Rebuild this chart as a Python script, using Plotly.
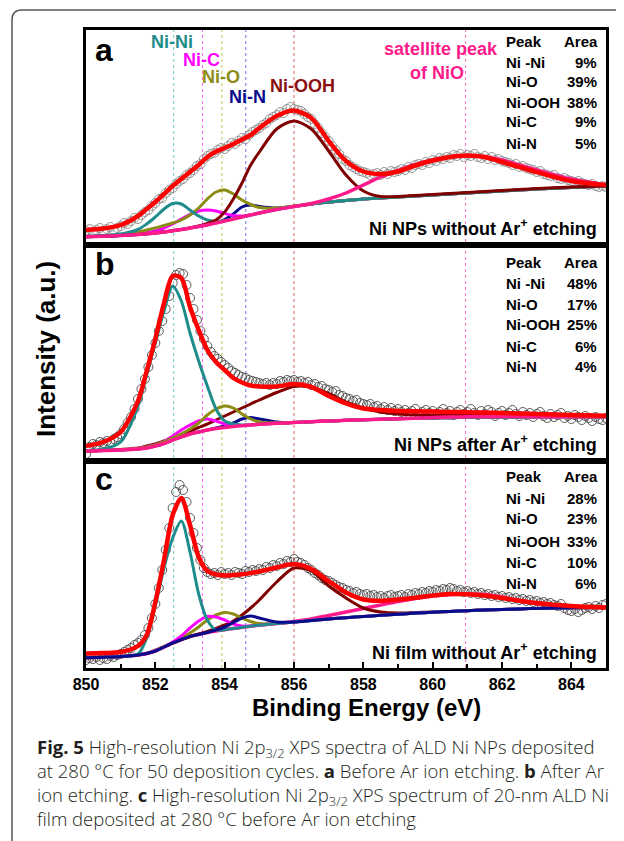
import plotly.graph_objects as go
from plotly.subplots import make_subplots

# ---------------- data (intensity in arbitrary units per panel) ----------------
X_FIT = [850, 850.5, 851, 851.5, 851.75, 852, 852.25, 852.5, 852.75, 853, 853.25, 853.5,
         853.75, 854, 854.25, 854.5, 854.75, 855, 855.5, 856, 856.5, 857, 857.5, 858,
         858.5, 859, 859.5, 860, 860.5, 861, 861.5, 862, 862.5, 863, 864, 865]
X_RAW = [round(850 + 0.1 * i, 1) for i in range(151)]
TICK_VALS = [850, 852, 854, 856, 858, 860, 862, 864]
MINOR_TICKS = [851, 853, 855, 857, 859, 861, 863, 865]
PEAK_POS = [852.53, 853.36, 853.92, 854.61, 856.0, 860.95]
PEAK_NAMES = ["Ni-Ni", "Ni-C", "Ni-O", "Ni-N", "Ni-OOH", "satellite"]

# panel a
RAW_A = [14, 16, 13, 15, 17, 14, 16, 18, 15, 17,
         19, 22, 21, 24, 27, 26, 30, 33, 35, 39,
         42, 46, 47, 52, 55, 57, 61, 64, 66, 70,
         72, 75, 79, 81, 86, 89, 91, 92, 95, 97,
         96, 99, 102, 101, 104, 107, 106, 110, 113, 115,
         117, 120, 122, 126, 128, 130, 133, 132, 136, 138,
         136, 135, 134, 131, 128, 126, 121, 117, 112, 108,
         104, 99, 95, 91, 86, 84, 80, 78, 76, 74,
         73, 72, 70, 71, 72, 70, 73, 71, 74, 73,
         74, 76, 75, 78, 77, 80, 81, 80, 83, 82,
         85, 84, 87, 86, 88, 87, 90, 89, 91, 88,
         90, 89, 91, 88, 87, 89, 86, 88, 85, 86,
         84, 83, 82, 80, 81, 78, 79, 77, 76, 75,
         73, 74, 71, 70, 69, 70, 67, 66, 67, 65,
         64, 63, 64, 62, 61, 60, 61, 59, 58, 59,
         58]
FIT_A = [15, 16.5, 20, 29, 36, 43, 51, 59, 66, 73, 80, 88, 93.5, 97, 101, 105.5, 110, 117,
         129, 134.5, 127, 104, 84, 73.5, 71, 73.5, 79.5, 84.5, 88, 89.5, 88, 83, 78, 73, 64, 60]
NINI_A = [8.8, 9.5, 11, 15.5, 21, 28, 36, 41.5, 41, 35, 29, 25, 23.5, 24.5, 26.2, 28.1, 30, 32,
          35.5, 38.5, 41, 43, 44.5, 46, 47, 48, 49, 50, 51, 52, 53, 54, 55, 56, 57.5, 59]
NIC_A = [8.3, 8.8, 9.6, 11, 12.5, 14, 17, 21, 26, 30.5, 34, 35, 34, 31.5, 29.5, 29, 30.3, 32,
         35.5, 38.5, 41, 43, 44.5, 46, 47, 48, 49, 50, 51, 52, 53, 54, 55, 56, 57.5, 59]
NIO_A = [8.5, 9.2, 10.5, 13, 15, 17, 19.5, 22, 25, 30, 37, 46, 53, 55, 51, 45, 40.5, 37.5,
         37, 39, 41, 43, 44.5, 46, 47, 48, 49, 50, 51, 52, 53, 54, 55, 56, 57.5, 59]
NIN_A = [8.3, 8.8, 9.5, 10.5, 11.2, 12, 13, 14.3, 15.5, 17, 18.5, 20.2, 22.5, 25.5, 31, 38, 40, 38.5,
         37, 38.7, 41, 43, 44.5, 46, 47, 48, 49, 50, 51, 52, 53, 54, 55, 56, 57.5, 59]
NIOOH_A = [8.3, 8.8, 9.5, 10.5, 11.2, 12, 13, 14.3, 15.5, 17, 19, 21.5, 25, 33, 46, 62, 80, 93,
           116, 124, 116, 94, 70, 54, 48.5, 48.5, 49.5, 50.5, 51.5, 52.5, 53.5, 54.5, 55.5, 56.5, 58, 59]
SAT_A = [8.3, 8.8, 9.5, 10.5, 11.2, 12, 13, 14.3, 15.5, 17, 18.5, 20, 22, 24, 26, 28, 30, 32,
         35.5, 38.5, 41.5, 46, 52, 60, 68, 74.5, 80.5, 85, 88, 89, 88, 85, 80, 75, 66, 60]

# panel b
RAW_B = [7, 14, 17, 16, 19, 18, 20, 19, 22, 24,
         27, 32, 38, 44, 52, 62, 72, 82, 94, 106,
         118, 130, 140, 152, 165, 178, 186, 188, 187, 176,
         163, 152, 141, 130, 122, 115, 109, 105, 102, 99,
         96, 93, 90, 88, 86, 84, 83, 81, 80, 79,
         78, 77, 78, 76, 78, 77, 80, 79, 81, 80,
         81, 79, 80, 78, 79, 76, 77, 74, 75, 72,
         71, 69, 70, 66, 65, 63, 62, 60, 61, 58,
         57, 56, 57, 54, 55, 52, 54, 51, 53, 50,
         52, 49, 51, 48, 50, 52, 47, 49, 51, 48,
         50, 47, 49, 52, 48, 50, 46, 49, 51, 47,
         49, 52, 48, 46, 50, 47, 51, 49, 45, 48,
         50, 46, 48, 51, 47, 45, 49, 46, 48, 44,
         47, 49, 45, 43, 47, 44, 46, 48, 43, 45,
         42, 46, 44, 41, 45, 43, 40, 44, 42, 41,
         43]
FIT_B = [15, 19, 29, 60, 90, 122, 158, 185, 183, 154, 131, 111, 99, 91, 83, 78.5, 75.5, 74.5,
         74.5, 77, 74, 65, 57.5, 52.5, 51, 50, 49.7, 49.4, 49.1, 48.8, 48.4, 48, 47.5, 47, 46, 45.2]
NINI_B = [10.5, 12, 19, 55, 86, 118, 150, 175, 160, 128, 100, 75, 52, 40, 37, 36, 36.2, 36.8,
          37.7, 38.5, 39.3, 40, 40.7, 41.3, 41.8, 42.2, 42.6, 43, 43.3, 43.5, 43.7, 43.9, 44, 44.1, 44.2, 44.3]
NIC_B = [10, 10.5, 11, 12.5, 14, 16, 19.5, 25, 31, 36, 40, 42, 40, 37, 35.5, 35.5, 36, 36.7,
         37.7, 38.5, 39.3, 40, 40.7, 41.3, 41.8, 42.2, 42.6, 43, 43.3, 43.5, 43.7, 43.9, 44, 44.1, 44.2, 44.3]
NIO_B = [10, 10.5, 11, 12.5, 14, 16, 19, 23, 27, 32, 38, 46, 52, 55, 53, 47, 42, 39,
         38, 38.5, 39.3, 40, 40.7, 41.3, 41.8, 42.2, 42.6, 43, 43.3, 43.5, 43.7, 43.9, 44, 44.1, 44.2, 44.3]
NIN_B = [10, 10.5, 11, 12, 13, 15, 17.5, 21, 24, 27, 29, 31, 33, 35, 38, 42, 43.5, 42,
         39, 38.5, 39.3, 40, 40.7, 41.3, 41.8, 42.2, 42.6, 43, 43.3, 43.5, 43.7, 43.9, 44, 44.1, 44.2, 44.3]
NIOOH_B = [10, 10.5, 11.5, 13, 15, 17, 20, 23, 26.5, 30, 33.5, 37, 41, 45, 49, 53, 57, 61,
           68.5, 74.5, 74, 67.5, 59, 53, 49, 47, 46, 45.5, 45.5, 46, 46.5, 46.5, 46, 45.5, 45, 44.5]
SAT_B = [10, 10.5, 11, 12, 13, 15, 17.5, 21, 24, 27, 29, 31, 32.5, 33.5, 34.5, 35.3, 36, 36.7,
         37.7, 38.5, 39.3, 40, 40.7, 41.3, 41.8, 42.3, 42.8, 43.4, 43.9, 44.2, 44.3, 44.4, 44.4, 44.3, 44.3, 44.3]

# panel c
RAW_C = [8, 10, 9, 11, 8, 10, 9, 12, 11, 13,
         14, 16, 18, 20, 23, 25, 28, 33, 40, 50,
         64, 80, 98, 118, 140, 160, 176, 183, 178, 166,
         150, 135, 120, 108, 100, 96, 94, 95, 93, 96,
         94, 95, 93, 96, 95, 94, 97, 96, 98, 97,
         99, 98, 101, 100, 103, 102, 105, 104, 107, 106,
         109, 106, 105, 103, 100, 98, 95, 93, 90, 88,
         87, 85, 83, 81, 80, 78, 77, 75, 76, 74,
         73, 74, 72, 73, 71, 72, 70, 72, 73, 71,
         72, 73, 71, 74, 73, 75, 74, 76, 75, 77,
         76, 78, 77, 79, 78, 80, 79, 77, 78, 76,
         77, 75, 76, 74, 75, 73, 74, 72, 73, 71,
         72, 70, 71, 69, 70, 68, 69, 67, 68, 66,
         67, 65, 66, 64, 65, 63, 62, 64, 60, 58,
         57, 59, 56, 58, 60, 61, 59, 62, 60, 63,
         64]
FIT_C = [14.5, 15, 16, 22, 33, 66, 108, 153, 170, 143, 111, 97, 93.5, 92.5, 93, 93.7, 95, 96.5,
         100.5, 104, 99, 87, 75.5, 68.5, 67.2, 68.5, 70.3, 72.5, 74, 73.8, 72.4, 70, 67.3, 65, 62, 60.6]
NINI_C = [10.3, 10.8, 11.5, 14, 30, 62, 100, 130, 147, 116, 74, 48, 38, 38.3, 39.5, 40.7, 41.8, 42.8,
          44.5, 46, 47.5, 49, 50.3, 51.5, 52.7, 53.8, 54.9, 55.8, 56.6, 57.3, 58, 58.6, 59.1, 59.6, 60.2, 60.6]
NIC_C = [10.3, 10.8, 11.5, 13.2, 14.5, 17.5, 21, 26, 32, 40, 47, 51.5, 51, 48, 44, 42, 42, 42.8,
         44.5, 46, 47.5, 49, 50.3, 51.5, 52.7, 53.8, 54.9, 55.8, 56.6, 57.3, 58, 58.6, 59.1, 59.6, 60.2, 60.6]
NIO_C = [10.3, 10.8, 11.5, 13.2, 14.5, 18, 21.5, 25.5, 30, 35, 41, 48, 53, 55.5, 54, 50, 46.5, 44.5,
         44.5, 46, 47.5, 49, 50.3, 51.5, 52.7, 53.8, 54.9, 55.8, 56.6, 57.3, 58, 58.6, 59.1, 59.6, 60.2, 60.6]
NIN_C = [10.3, 10.8, 11.5, 13, 14.5, 17, 21, 25, 28.5, 31.5, 33.5, 35.5, 38, 41, 45.5, 50, 52, 50,
         46, 46, 47.5, 49, 50.3, 51.5, 52.7, 53.8, 54.9, 55.8, 56.6, 57.3, 58, 58.6, 59.1, 59.6, 60.2, 60.6]
NIOOH_C = [10.3, 10.8, 11.5, 13, 14.5, 17, 21, 25, 28.5, 31.5, 34, 36.5, 39.5, 43, 47, 53, 60, 68,
           86, 100, 97, 82, 70, 60, 56, 55, 55.5, 56, 56.6, 57.3, 58, 58.6, 59.1, 59.6, 60.2, 60.6]
SAT_C = [10.3, 10.8, 11.5, 13, 14.5, 17, 21, 25, 28.5, 31.5, 33.5, 35.5, 37, 38.3, 39.5, 40.7, 41.8, 42.8,
         44.5, 46.5, 49, 52.5, 56, 59.5, 63, 66.5, 69.5, 72, 73.5, 74, 73.5, 71, 67.5, 64.5, 61.5, 60.6]

TABLE_LABELS = ["Ni -Ni", "Ni-O", "Ni-OOH", "Ni-C", "Ni-N"]
AREA_A = ["9%", "39%", "38%", "9%", "5%"]
AREA_B = ["48%", "17%", "25%", "6%", "4%"]
AREA_C = ["28%", "23%", "33%", "10%", "6%"]
PANEL_NOTES = ["Ni NPs without Ar<sup>+</sup> etching", "Ni NPs after Ar<sup>+</sup> etching",
               "Ni film without Ar<sup>+</sup> etching"]
Y_RANGES = [[0, 215], [0, 216], [0, 207]]
CAPTION_LINES = [
    "<b>Fig. 5</b> High-resolution Ni 2p<sub>3/2</sub> XPS spectra of ALD Ni NPs deposited",
    "at 280 °C for 50 deposition cycles. <b>a</b> Before Ar ion etching. <b>b</b> After Ar",
    "ion etching. <b>c</b> High-resolution Ni 2p<sub>3/2</sub> XPS spectrum of 20-nm ALD Ni",
    "film deposited at 280 °C before Ar ion etching",
]

# ---------------- styles ----------------
C_FIT = "#ff0000"
C_NINI = "#1f8c8c"
C_NIC = "#ff00ff"
C_NIO = "#8c8c14"
C_NIN = "#0a0a8c"
C_NIOOH = "#800000"
C_SAT = "#ff1a8c"
DOT_COLORS = ["#70c8c8", "#ff60ff", "#c0c050", "#7070e0", "#e06060", "#ff70c0"]
FONT = "Liberation Sans, Arial, sans-serif"

# page offset (the html body has an 8 px margin) and plot-area geometry in page pixels
OFF = 8
FIG_W, FIG_H = 624 - OFF, 841 - OFF
SL, SR, ST, SB = 86, 606, 30, 668          # plot area in page pixels
L, R, T, B = SL - OFF, SR - OFF, ST - OFF, SB - OFF


def PX(x):
    return (x - OFF - L) / (R - L)


def PY(y):
    return (B - (y - OFF)) / (B - T)


fig = make_subplots(rows=3, cols=1, shared_xaxes=True, vertical_spacing=0,
                    row_heights=[215, 216, 207])

panels = [
    (RAW_A, FIT_A, NINI_A, NIC_A, NIO_A, NIN_A, NIOOH_A, SAT_A, "#8a8a8a",
     ["nin", "nic", "nio", "nini", "niooh", "sat"]),
    (RAW_B, FIT_B, NINI_B, NIC_B, NIO_B, NIN_B, NIOOH_B, SAT_B, "#4a4a4a",
     ["nin", "niooh", "nic", "nio", "nini", "sat"]),
    (RAW_C, FIT_C, NINI_C, NIC_C, NIO_C, NIN_C, NIOOH_C, SAT_C, "#4a4a4a",
     ["sat", "niooh", "nio", "nic", "nini", "nin"]),
]

for r, (raw, fit, nini, nic, nio, nin, niooh, sat, mcol, order) in enumerate(panels, start=1):
    fig.add_trace(go.Scatter(x=X_RAW, y=raw, mode="markers",
                             marker=dict(symbol="circle-open", size=9, color=mcol,
                                         line=dict(width=0.9, color=mcol)),
                             showlegend=False, hoverinfo="skip"), row=r, col=1)
    comps = {
        "nini": (nini, C_NINI, 3),
        "nic": (nic, C_NIC, 3),
        "nio": (nio, C_NIO, 3),
        "nin": (nin, C_NIN, 3),
        "niooh": (niooh, C_NIOOH, 3),
        "sat": (sat, C_SAT, 3.5),
    }
    for key in order:
        ys, col, w = comps[key]
        fig.add_trace(go.Scatter(x=X_FIT, y=ys, mode="lines",
                                 line=dict(color=col, width=w, shape="spline", smoothing=0.8),
                                 showlegend=False, hoverinfo="skip"), row=r, col=1)
    fig.add_trace(go.Scatter(x=X_FIT, y=fit, mode="lines",
                             line=dict(color=C_FIT, width=4.5, shape="spline", smoothing=0.8),
                             showlegend=False, hoverinfo="skip"), row=r, col=1)

for r in (1, 2, 3):
    fig.update_xaxes(range=[850, 865], showline=True, mirror=True, linecolor="black",
                     linewidth=2.5, showgrid=False, zeroline=False, row=r, col=1)
    fig.update_yaxes(range=Y_RANGES[r - 1], showline=True, mirror=True, linecolor="black",
                     linewidth=2.5, showgrid=False, zeroline=False, showticklabels=False,
                     ticks="", row=r, col=1)
fig.update_xaxes(ticks="", showticklabels=False, row=1, col=1)
fig.update_xaxes(ticks="", showticklabels=False, row=2, col=1)
fig.update_xaxes(tickmode="array", tickvals=TICK_VALS, ticktext=[f"<b>{v}</b>" for v in TICK_VALS],
                 ticks="inside", ticklen=6, tickwidth=2, tickcolor="black",
                 tickfont=dict(family=FONT, size=16, color="black"),
                 minor=dict(tickmode="array", tickvals=MINOR_TICKS, ticks="inside",
                            ticklen=4, tickwidth=2, tickcolor="black"),
                 showticklabels=True, row=3, col=1)

# vertical dotted reference lines
for pos, col in zip(PEAK_POS, DOT_COLORS):
    fig.add_shape(type="line", xref="x", yref="paper", x0=pos, x1=pos, y0=0, y1=1,
                  line=dict(color=col, width=1, dash="dot"), layer="below")

ann = []


def add_text(text, x, y, size, color="black", xanchor="center", yanchor="middle",
             font=FONT, angle=0, weight=None, align="center"):
    f = dict(family=font, size=size, color=color)
    if weight is not None:
        f["weight"] = weight
    ann.append(dict(text=text, x=PX(x), y=PY(y), xref="paper", yref="paper", showarrow=False,
                    xanchor=xanchor, yanchor=yanchor, textangle=angle, font=f, align=align))


# panel letters
for letter, y in zip(["a", "b", "c"], [50, 264, 479]):
    add_text(f"<b>{letter}</b>", 93, y, 32, xanchor="left")

# peak labels in panel a
add_text("<b>Ni-Ni</b>", 172, 42, 18, C_NINI)
add_text("<b>Ni-C</b>", 201, 60, 18, C_NIC)
add_text("<b>Ni-O</b>", 221, 77, 18, C_NIO)
add_text("<b>Ni-N</b>", 247, 97, 18, C_NIN)
add_text("<b>Ni-OOH</b>", 302, 86, 18, "#8b1010")
add_text("<b>satellite peak</b>", 441, 49, 18, C_SAT)
add_text("<b>of NiO</b>", 437, 73, 18, C_SAT)

# tables
for areas, ys in [(AREA_A, [42, 62, 82, 102, 122, 143]),
                  (AREA_B, [263, 283, 304, 324, 346, 366]),
                  (AREA_C, [477, 498, 519, 541, 562, 583])]:
    add_text("<b>Peak</b>", 504, ys[0], 15, xanchor="left")
    add_text("<b>Area</b>", 600, ys[0], 15, xanchor="right")
    for lab, a, y in zip(TABLE_LABELS, areas, ys[1:]):
        add_text(f"<b>{lab}</b>", 504, y, 15, xanchor="left")
        add_text(f"<b>{a}</b>", 599, y, 15, xanchor="right")

for note, y in zip(PANEL_NOTES, [228, 443, 651]):
    add_text(f"<b>{note}</b>", 599, y, 18, xanchor="right")

# axis titles
add_text("<b>Binding Energy (eV)</b>", 366, 707, 24)
add_text("<b>Intensity (a.u.)</b>", 46, 349, 26, angle=-90)

# caption (one block, four lines)
add_text("<br>".join(CAPTION_LINES), 35, 782, 18.5, "#231f20", xanchor="left",
         font="Open Sans, Noto Sans, sans-serif", weight=300, align="left")

# outer rounded frame
path = (f"M {PX(660)},{PY(10)} L {PX(22)},{PY(10)} Q {PX(12)},{PY(10)} {PX(12)},{PY(20)} "
        f"L {PX(12)},{PY(880)}")
fig.add_shape(type="path", xref="paper", yref="paper", path=path,
              line=dict(color="#555555", width=1.5))

fig.update_layout(width=FIG_W, height=FIG_H,
                  margin=dict(l=L, r=FIG_W - R, t=T, b=FIG_H - B),
                  paper_bgcolor="white", plot_bgcolor="white", annotations=ann,
                  showlegend=False)

fig.write_html("out.html")
